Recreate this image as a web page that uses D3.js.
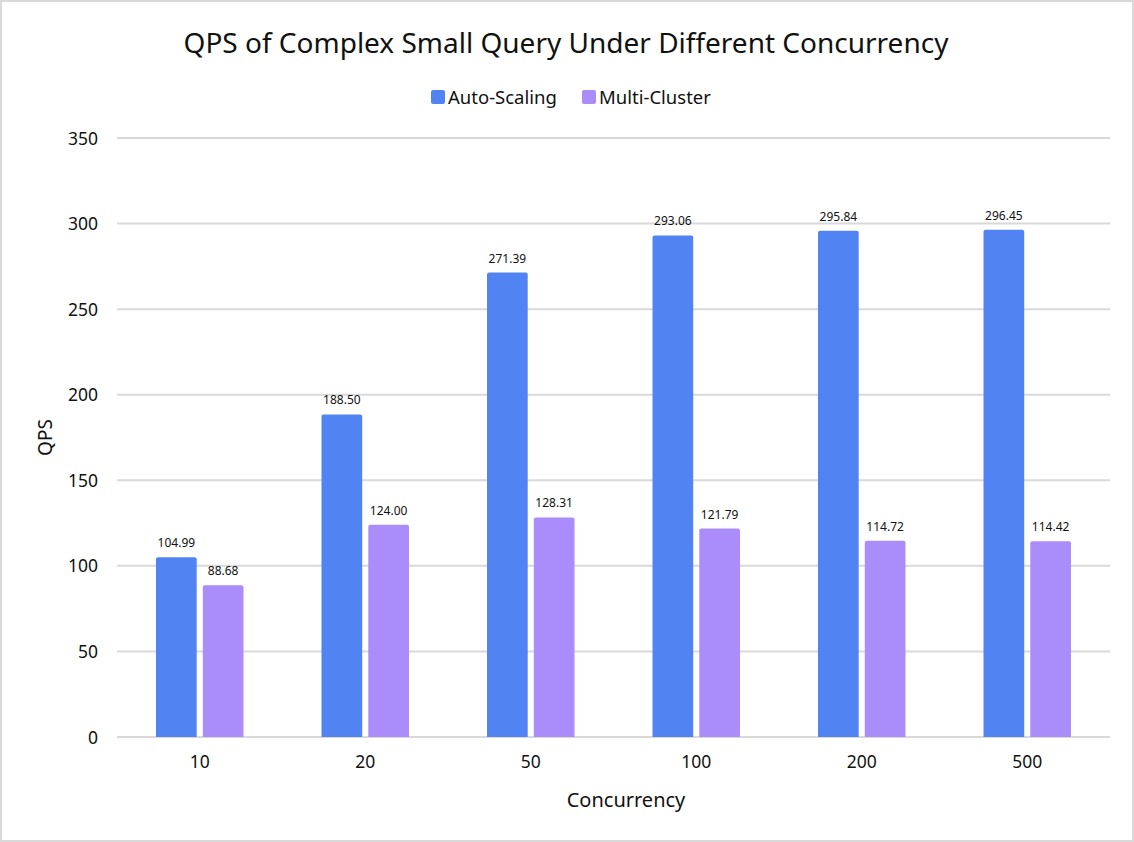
<!DOCTYPE html>
<html>
<head>
<meta charset="utf-8">
<script src="https://cdn.jsdelivr.net/npm/d3@7"></script>
<style>
  body { margin: 0; background: #fff; font-family: "Noto Sans", "Open Sans", sans-serif; }
  svg text { fill: #111; }
</style>
</head>
<body>
<script>
var w = 1134;
var h = 842;

// chart data
const categories = ["10", "20", "50", "100", "200", "500"];
const seriesNames = ["Auto-Scaling", "Multi-Cluster"];
const autoScaling = [104.99, 188.50, 271.39, 293.06, 295.84, 296.45];
const multiCluster = [88.68, 124.00, 128.31, 121.79, 114.72, 114.42];
const yTicks = [0, 50, 100, 150, 200, 250, 300, 350];
const colors = ["#5283F2", "#AA8DFA"];

const margin = {left: 117, right: 24, top: 138, bottom: 105};

const svg = d3.select("body")
    .append("svg")
    .attr("width", w)
    .attr("height", h);

// outer frame
svg.append("rect")
    .attr("x", 1).attr("y", 1)
    .attr("width", w - 2).attr("height", h - 2)
    .attr("fill", "#fff")
    .attr("stroke", "#d9d9d9")
    .attr("stroke-width", 2);

const xScale = d3.scaleBand()
    .domain(categories)
    .range([margin.left, w - margin.right]);

const inner = d3.scaleBand()
    .domain(seriesNames)
    .range([39, xScale.bandwidth() - 39])
    .paddingInner(0.13);

const yScale = d3.scaleLinear()
    .domain([0, 350])
    .range([h - margin.bottom, margin.top]);

// gridlines
svg.append("g")
    .selectAll("line")
    .data(yTicks)
    .join("line")
    .attr("x1", margin.left)
    .attr("x2", w - margin.right)
    .attr("y1", d => yScale(d))
    .attr("y2", d => yScale(d))
    .attr("stroke", "#d9d9d9")
    .attr("stroke-width", 2);

// y axis labels
const yAxis = d3.axisLeft(yScale).tickValues(yTicks).tickSize(0).tickPadding(0);
svg.append("g")
    .attr("transform", `translate(${margin.left - 19}, 0)`)
    .call(yAxis)
    .call(g => g.select(".domain").remove())
    .selectAll("text")
    .attr("font-size", 17.5)
    .attr("font-family", "Noto Sans")
    .attr("dy", "0.35em")
    .style("fill", "#111");

// x axis labels
const xAxis = d3.axisBottom(xScale).tickSize(0).tickPadding(0);
svg.append("g")
    .attr("transform", `translate(0, ${h - margin.bottom + 31})`)
    .call(xAxis)
    .call(g => g.select(".domain").remove())
    .selectAll("text")
    .attr("font-size", 17.5)
    .attr("font-family", "Noto Sans")
    .attr("dy", "0")
    .style("fill", "#111");

// bars
const allSeries = [autoScaling, multiCluster];
allSeries.forEach((vals, si) => {
    const g = svg.append("g");
    g.selectAll("path")
        .data(vals)
        .join("path")
        .attr("fill", colors[si])
        .attr("d", (d, i) => {
            const x0 = xScale(categories[i]) + inner(seriesNames[si]);
            const bw = inner.bandwidth();
            const y0 = yScale(d), y1 = yScale(0), r = 2;
            return `M${x0},${y1}V${y0 + r}Q${x0},${y0} ${x0 + r},${y0}H${x0 + bw - r}Q${x0 + bw},${y0} ${x0 + bw},${y0 + r}V${y1}Z`;
        });
    g.selectAll("text")
        .data(vals)
        .join("text")
        .attr("x", (d, i) => xScale(categories[i]) + inner(seriesNames[si]) + inner.bandwidth() / 2)
        .attr("y", d => yScale(d) - 10)
        .attr("text-anchor", "middle")
        .attr("font-size", 12)
        .text(d => d.toFixed(2));
});

// title
svg.append("text")
    .attr("x", 566)
    .attr("y", 53)
    .attr("text-anchor", "middle")
    .attr("font-size", 28)
    .text("QPS of Complex Small Query Under Different Concurrency");

// legend
const legend = svg.append("g");
const legendX = [431, 582];
seriesNames.forEach((name, i) => {
    legend.append("rect")
        .attr("x", legendX[i]).attr("y", 90)
        .attr("width", 14).attr("height", 14)
        .attr("rx", 2)
        .attr("fill", colors[i]);
    legend.append("text")
        .attr("x", legendX[i] + 17)
        .attr("y", 104)
        .attr("font-size", 18.5)
        .text(name);
});

// axis titles
svg.append("text")
    .attr("transform", `translate(52, ${yScale(175)}) rotate(-90)`)
    .attr("text-anchor", "middle")
    .attr("font-size", 19)
    .text("QPS");

svg.append("text")
    .attr("x", 626)
    .attr("y", 807)
    .attr("text-anchor", "middle")
    .attr("font-size", 20)
    .text("Concurrency");
</script>
</body>
</html>
